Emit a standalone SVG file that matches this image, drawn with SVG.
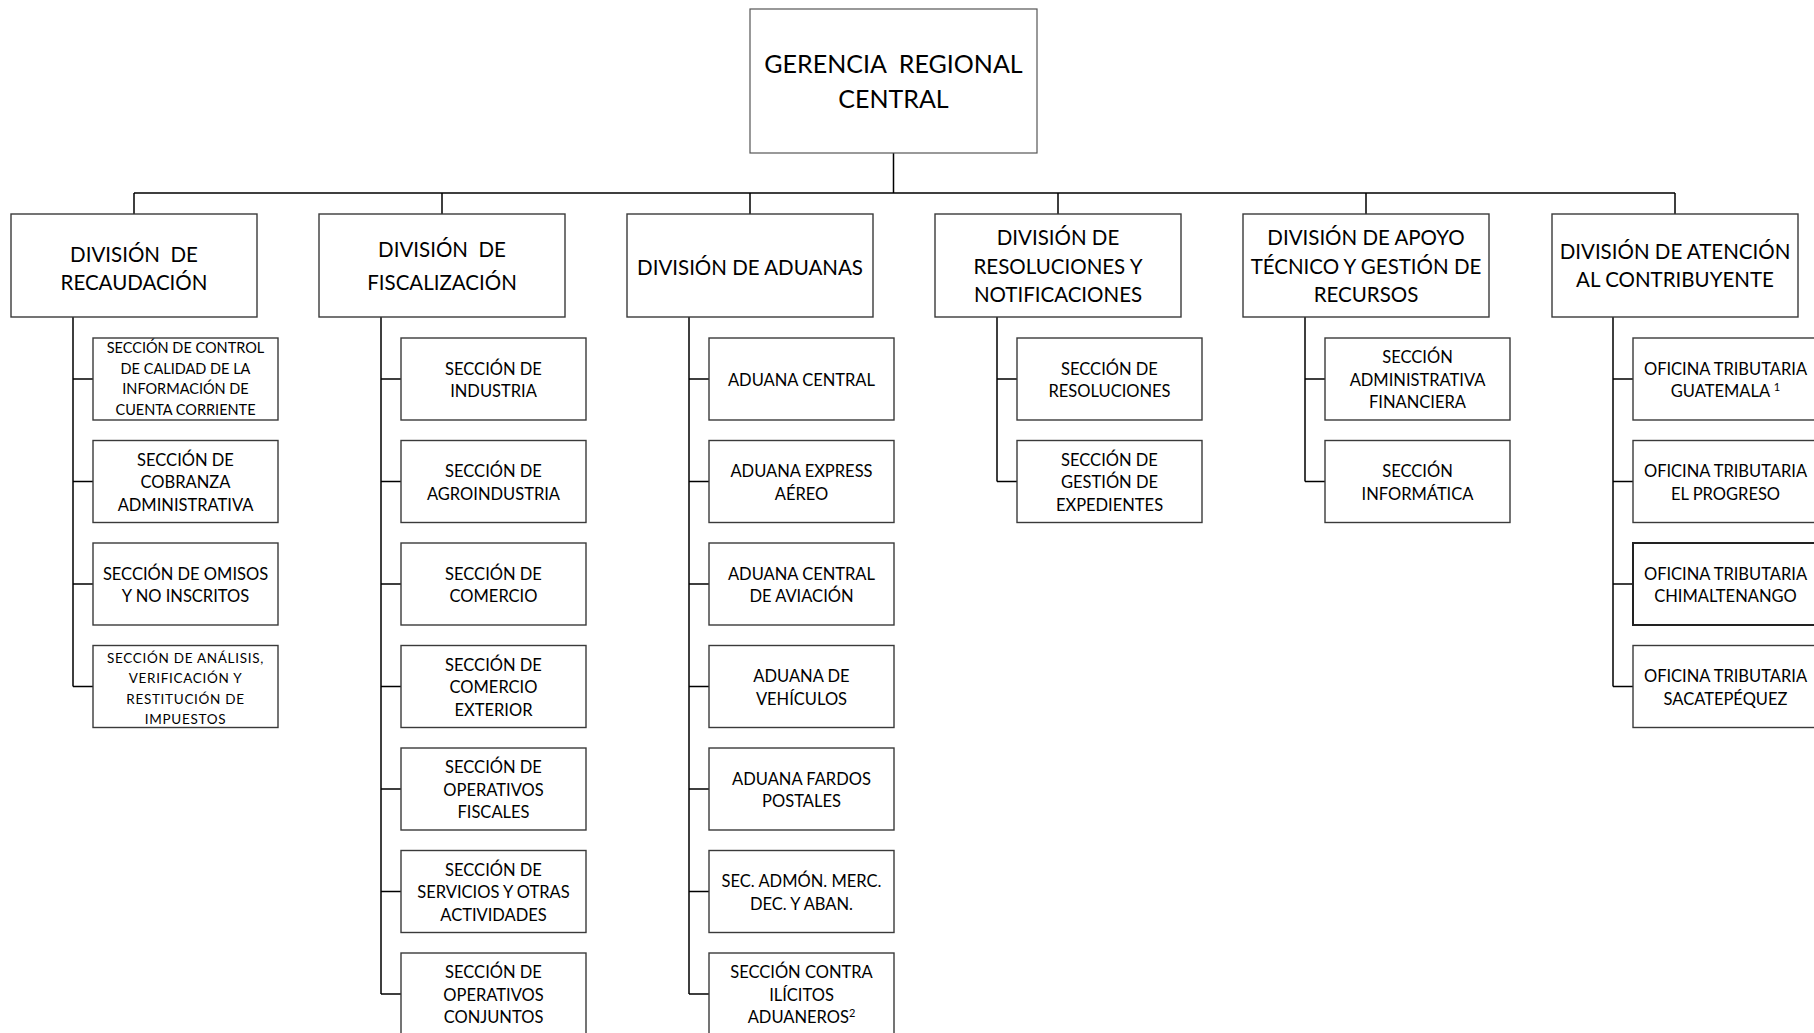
<svg xmlns="http://www.w3.org/2000/svg" width="1814" height="1033" viewBox="0 0 1814 1033">
<style>
  .bx { fill: #ffffff; stroke: #3a3a3a; stroke-width: 1.4; }
  .ln { fill: none; stroke: #000000; stroke-width: 1.5; }
  text { font-family: Lato, "Liberation Sans", sans-serif; fill: #000000; text-anchor: middle; white-space: pre; }
  .t0 { font-size: 25px; }
  .t1 { font-size: 20.5px; }
  .t2 { font-size: 16.5px; }
  .t3 { font-size: 14.5px; }
  .t4 { font-size: 13.5px; letter-spacing: 0.7px; }
  .sup { font-size: 11px; }
</style>
<rect width="1814" height="1033" fill="#ffffff"/>

<g id="connectors">
  <path class="ln" d="M893.5 153 V193 M134 193 H1675 M134 193 V214 M442 193 V214 M750 193 V214 M1058 193 V214 M1366 193 V214 M1675 193 V214"/>
  <path class="ln" d="M73 317 V686.5 M73 379 H93 M73 481.5 H93 M73 584 H93 M73 686.5 H93"/>
  <path class="ln" d="M381 317 V994 M381 379 H401 M381 481.5 H401 M381 584 H401 M381 686.5 H401 M381 789 H401 M381 891.5 H401 M381 994 H401"/>
  <path class="ln" d="M689 317 V994 M689 379 H709 M689 481.5 H709 M689 584 H709 M689 686.5 H709 M689 789 H709 M689 891.5 H709 M689 994 H709"/>
  <path class="ln" d="M997 317 V481.5 M997 379 H1017 M997 481.5 H1017"/>
  <path class="ln" d="M1305 317 V481.5 M1305 379 H1325 M1305 481.5 H1325"/>
  <path class="ln" d="M1613 317 V686.5 M1613 379 H1633 M1613 481.5 H1633 M1613 584 H1633 M1613 686.5 H1633"/>
</g>

<g id="gerencia">
  <rect class="bx" x="750" y="9" width="287" height="144" style="stroke:#555;stroke-width:1.2"/>
  <text class="t0" x="893.5" y="73">GERENCIA  REGIONAL</text>
  <text class="t0" x="893.5" y="108">CENTRAL</text>
</g>

<g id="div-recaudacion">
  <rect class="bx" x="11" y="214" width="246" height="103"/>
  <text class="t1" x="134" y="261.5">DIVISIÓN  DE</text>
  <text class="t1" x="134" y="290">RECAUDACIÓN</text>
</g>
<g id="div-fiscalizacion">
  <rect class="bx" x="319" y="214" width="246" height="103"/>
  <text class="t1" x="442" y="256.5">DIVISIÓN  DE</text>
  <text class="t1" x="442" y="289.5">FISCALIZACIÓN</text>
</g>
<g id="div-aduanas">
  <rect class="bx" x="627" y="214" width="246" height="103"/>
  <text class="t1" x="750" y="275">DIVISIÓN DE ADUANAS</text>
</g>
<g id="div-resoluciones">
  <rect class="bx" x="935" y="214" width="246" height="103"/>
  <text class="t1" x="1058" y="245">DIVISIÓN DE</text>
  <text class="t1" x="1058" y="273.5">RESOLUCIONES Y</text>
  <text class="t1" x="1058" y="302">NOTIFICACIONES</text>
</g>
<g id="div-apoyo">
  <rect class="bx" x="1243" y="214" width="246" height="103"/>
  <text class="t1" x="1366" y="245">DIVISIÓN DE APOYO</text>
  <text class="t1" x="1366" y="273.5">TÉCNICO Y GESTIÓN DE</text>
  <text class="t1" x="1366" y="302">RECURSOS</text>
</g>
<g id="div-atencion">
  <rect class="bx" x="1552" y="214" width="246" height="103"/>
  <text class="t1" x="1675" y="258.5">DIVISIÓN DE ATENCIÓN</text>
  <text class="t1" x="1675" y="287">AL CONTRIBUYENTE</text>
</g>

<!-- Column 1 -->
<g id="rec-1">
  <rect class="bx" x="93" y="338" width="185" height="82"/>
  <text class="t3" x="185.5" y="353">SECCIÓN DE CONTROL</text>
  <text class="t3" x="185.5" y="373.5">DE CALIDAD DE LA</text>
  <text class="t3" x="185.5" y="394">INFORMACIÓN DE</text>
  <text class="t3" x="185.5" y="414.5">CUENTA CORRIENTE</text>
</g>
<g id="rec-2">
  <rect class="bx" x="93" y="440.5" width="185" height="82"/>
  <text class="t2" x="185.5" y="465.5">SECCIÓN DE</text>
  <text class="t2" x="185.5" y="488">COBRANZA</text>
  <text class="t2" x="185.5" y="510.5">ADMINISTRATIVA</text>
</g>
<g id="rec-3">
  <rect class="bx" x="93" y="543" width="185" height="82"/>
  <text class="t2" x="185.5" y="579.5">SECCIÓN DE OMISOS</text>
  <text class="t2" x="185.5" y="602">Y NO INSCRITOS</text>
</g>
<g id="rec-4">
  <rect class="bx" x="93" y="645.5" width="185" height="82"/>
  <text class="t4" x="185.5" y="662.5">SECCIÓN DE ANÁLISIS,</text>
  <text class="t4" x="185.5" y="683">VERIFICACIÓN Y</text>
  <text class="t4" x="185.5" y="703.5">RESTITUCIÓN DE</text>
  <text class="t4" x="185.5" y="724">IMPUESTOS</text>
</g>

<!-- Column 2 -->
<g id="fis-1">
  <rect class="bx" x="401" y="338" width="185" height="82"/>
  <text class="t2" x="493.5" y="374.5">SECCIÓN DE</text>
  <text class="t2" x="493.5" y="397">INDUSTRIA</text>
</g>
<g id="fis-2">
  <rect class="bx" x="401" y="440.5" width="185" height="82"/>
  <text class="t2" x="493.5" y="477">SECCIÓN DE</text>
  <text class="t2" x="493.5" y="499.5">AGROINDUSTRIA</text>
</g>
<g id="fis-3">
  <rect class="bx" x="401" y="543" width="185" height="82"/>
  <text class="t2" x="493.5" y="579.5">SECCIÓN DE</text>
  <text class="t2" x="493.5" y="602">COMERCIO</text>
</g>
<g id="fis-4">
  <rect class="bx" x="401" y="645.5" width="185" height="82"/>
  <text class="t2" x="493.5" y="670.5">SECCIÓN DE</text>
  <text class="t2" x="493.5" y="693">COMERCIO</text>
  <text class="t2" x="493.5" y="715.5">EXTERIOR</text>
</g>
<g id="fis-5">
  <rect class="bx" x="401" y="748" width="185" height="82"/>
  <text class="t2" x="493.5" y="773">SECCIÓN DE</text>
  <text class="t2" x="493.5" y="795.5">OPERATIVOS</text>
  <text class="t2" x="493.5" y="818">FISCALES</text>
</g>
<g id="fis-6">
  <rect class="bx" x="401" y="850.5" width="185" height="82"/>
  <text class="t2" x="493.5" y="875.5">SECCIÓN DE</text>
  <text class="t2" x="493.5" y="898">SERVICIOS Y OTRAS</text>
  <text class="t2" x="493.5" y="920.5">ACTIVIDADES</text>
</g>
<g id="fis-7">
  <rect class="bx" x="401" y="953" width="185" height="82"/>
  <text class="t2" x="493.5" y="978">SECCIÓN DE</text>
  <text class="t2" x="493.5" y="1000.5">OPERATIVOS</text>
  <text class="t2" x="493.5" y="1023">CONJUNTOS</text>
</g>

<!-- Column 3 -->
<g id="adu-1">
  <rect class="bx" x="709" y="338" width="185" height="82"/>
  <text class="t2" x="801.5" y="385.5">ADUANA CENTRAL</text>
</g>
<g id="adu-2">
  <rect class="bx" x="709" y="440.5" width="185" height="82"/>
  <text class="t2" x="801.5" y="477">ADUANA EXPRESS</text>
  <text class="t2" x="801.5" y="499.5">AÉREO</text>
</g>
<g id="adu-3">
  <rect class="bx" x="709" y="543" width="185" height="82"/>
  <text class="t2" x="801.5" y="579.5">ADUANA CENTRAL</text>
  <text class="t2" x="801.5" y="602">DE AVIACIÓN</text>
</g>
<g id="adu-4">
  <rect class="bx" x="709" y="645.5" width="185" height="82"/>
  <text class="t2" x="801.5" y="682">ADUANA DE</text>
  <text class="t2" x="801.5" y="704.5">VEHÍCULOS</text>
</g>
<g id="adu-5">
  <rect class="bx" x="709" y="748" width="185" height="82"/>
  <text class="t2" x="801.5" y="784.5">ADUANA FARDOS</text>
  <text class="t2" x="801.5" y="807">POSTALES</text>
</g>
<g id="adu-6">
  <rect class="bx" x="709" y="850.5" width="185" height="82"/>
  <text class="t2" x="801.5" y="887">SEC. ADMÓN. MERC.</text>
  <text class="t2" x="801.5" y="909.5">DEC. Y ABAN.</text>
</g>
<g id="adu-7">
  <rect class="bx" x="709" y="953" width="185" height="82"/>
  <text class="t2" x="801.5" y="978">SECCIÓN CONTRA</text>
  <text class="t2" x="801.5" y="1000.5">ILÍCITOS</text>
  <text class="t2" x="801.5" y="1023">ADUANEROS<tspan class="sup" dy="-6">2</tspan></text>
</g>

<!-- Column 4 -->
<g id="res-1">
  <rect class="bx" x="1017" y="338" width="185" height="82"/>
  <text class="t2" x="1109.5" y="374.5">SECCIÓN DE</text>
  <text class="t2" x="1109.5" y="397">RESOLUCIONES</text>
</g>
<g id="res-2">
  <rect class="bx" x="1017" y="440.5" width="185" height="82"/>
  <text class="t2" x="1109.5" y="465.5">SECCIÓN DE</text>
  <text class="t2" x="1109.5" y="488">GESTIÓN DE</text>
  <text class="t2" x="1109.5" y="510.5">EXPEDIENTES</text>
</g>

<!-- Column 5 -->
<g id="apo-1">
  <rect class="bx" x="1325" y="338" width="185" height="82"/>
  <text class="t2" x="1417.5" y="363">SECCIÓN</text>
  <text class="t2" x="1417.5" y="385.5">ADMINISTRATIVA</text>
  <text class="t2" x="1417.5" y="408">FINANCIERA</text>
</g>
<g id="apo-2">
  <rect class="bx" x="1325" y="440.5" width="185" height="82"/>
  <text class="t2" x="1417.5" y="477">SECCIÓN</text>
  <text class="t2" x="1417.5" y="499.5">INFORMÁTICA</text>
</g>

<!-- Column 6 -->
<g id="ate-1">
  <rect class="bx" x="1633" y="338" width="185" height="82"/>
  <text class="t2" x="1725.5" y="374.5">OFICINA TRIBUTARIA</text>
  <text class="t2" x="1725.5" y="397">GUATEMALA <tspan class="sup" dy="-6">1</tspan></text>
</g>
<g id="ate-2">
  <rect class="bx" x="1633" y="440.5" width="185" height="82"/>
  <text class="t2" x="1725.5" y="477">OFICINA TRIBUTARIA</text>
  <text class="t2" x="1725.5" y="499.5">EL PROGRESO</text>
</g>
<g id="ate-3">
  <rect class="bx" x="1633" y="543" width="185" height="82" style="stroke:#222;stroke-width:2"/>
  <text class="t2" x="1725.5" y="579.5">OFICINA TRIBUTARIA</text>
  <text class="t2" x="1725.5" y="602">CHIMALTENANGO</text>
</g>
<g id="ate-4">
  <rect class="bx" x="1633" y="645.5" width="185" height="82"/>
  <text class="t2" x="1725.5" y="682">OFICINA TRIBUTARIA</text>
  <text class="t2" x="1725.5" y="704.5">SACATEPÉQUEZ</text>
</g>
</svg>
